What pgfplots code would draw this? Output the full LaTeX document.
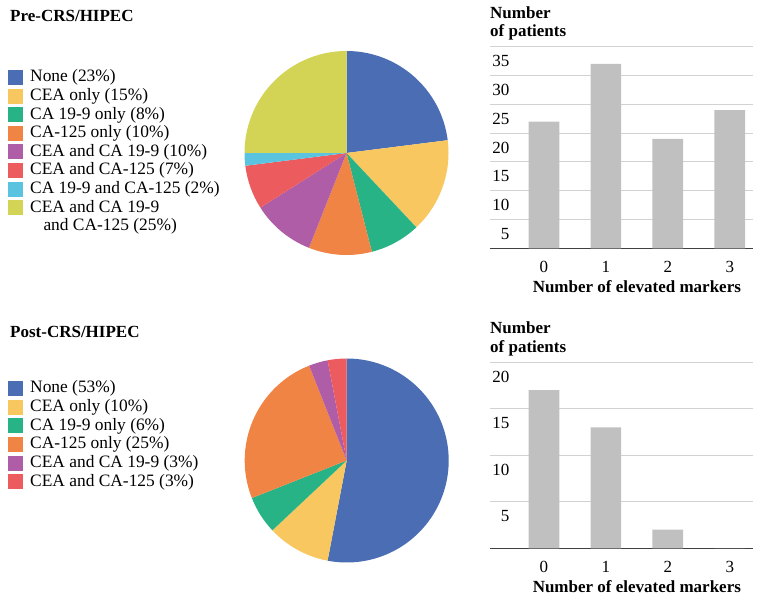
\documentclass[border=0pt]{standalone}
\usepackage{fontspec}
\setmainfont{Liberation Serif}
\usepackage{pgfplots}
\pgfplotsset{compat=1.18}

\definecolor{cblue}{HTML}{4A6DB3}
\definecolor{cyellow}{HTML}{F9C75F}
\definecolor{cgreen}{HTML}{27B386}
\definecolor{corange}{HTML}{F08445}
\definecolor{cpurple}{HTML}{B05DA8}
\definecolor{cred}{HTML}{EC5B5E}
\definecolor{ccyan}{HTML}{5AC3E0}
\definecolor{clime}{HTML}{D3D455}
\definecolor{cbar}{HTML}{C0C0C0}
\definecolor{cgrid}{HTML}{D2D2D2}
\definecolor{cbase}{HTML}{404040}

\newcommand\txt{\fontsize{17}{18.6}\selectfont}
\newcommand\legtxt{\fontsize{17.4}{18.6}\selectfont}

\pgfplotsset{
  markerbars/.style={
    scale only axis, width=262.7pt,
    xmin=-0.87, xmax=3.37, ymin=0,
    enlargelimits=false,
    ybar, bar width=30.7pt,
    xtick={0,1,2,3},
    tick style={draw=none},
    ymajorgrids, grid style={draw=cgrid, line width=0.9pt},
    axis x line*=bottom, axis y line*=left,
    y axis line style={draw=none},
    x axis line style={draw=cbase, line width=1.3pt},
    /pgf/number format/assume math mode=true,
    tick label style={font=\txt},
    yticklabel style={anchor=east, xshift=23pt, yshift=-14.5pt},
    xticklabel style={yshift=-5pt},
    xlabel={Number of elevated markers},
    xlabel style={font=\txt\bfseries, at={(axis description cs:0.559,0)}, anchor=center, yshift=-38.4pt},
    ylabel={Number\\of patients},
    ylabel style={rotate=-90, font=\txt\bfseries, align=left, at={(axis description cs:0,1)}, anchor=south west, inner sep=0pt, yshift=6pt},
  }
}

% legend row: y (from top, px), colour, text
\newcommand\legrow[3]{%
  \fill[#2] (8.3pt,{602pt-#1pt-7.5pt}) rectangle (23.3pt,{602pt-#1pt+7.5pt});
  \node[anchor=base west, inner sep=0pt, font=\legtxt] at (30pt,{602pt-#1pt-4.5pt}) {#3};
}

\begin{document}
\begin{tikzpicture}
\useasboundingbox (0pt,0pt) rectangle (762pt,602pt);

% ---------------- Pre-CRS/HIPEC ----------------
\node[anchor=base west, inner sep=0pt, font=\txt\bfseries] at (10pt,580.5pt) {Pre-CRS/HIPEC};

\legrow{77.5}{cblue}{None (23\%)}
\legrow{96.1}{cyellow}{CEA only (15\%)}
\legrow{114.7}{cgreen}{CA 19-9 only (8\%)}
\legrow{133.3}{corange}{CA-125 only (10\%)}
\legrow{151.9}{cpurple}{CEA and CA 19-9 (10\%)}
\legrow{170.5}{cred}{CEA and CA-125 (7\%)}
\legrow{189.1}{ccyan}{CA 19-9 and CA-125 (2\%)}
\legrow{207.7}{clime}{CEA and CA 19-9}
\node[anchor=base west, inner sep=0pt, font=\legtxt] at (43.3pt,371.2pt) {and CA-125 (25\%)};

\xdef\ang{90}
\foreach \p/\c in {23/cblue, 15/cyellow, 8/cgreen, 10/corange, 10/cpurple, 7/cred, 2/ccyan, 25/clime} {
  \pgfmathsetmacro\endang{\ang - 3.6*\p}
  \fill[\c] (346.5pt,449pt) -- ++(\ang:102pt) arc[start angle=\ang, end angle=\endang, radius=102pt] -- cycle;
  \xdef\ang{\endang}
}

\begin{axis}[markerbars, at={(490pt,353.7pt)}, anchor=south west, height=201.6pt,
    ymax=35, ytick={5,10,...,35}]
  \addplot[fill=cbar, draw=none] coordinates {(0,22) (1,32) (2,19) (3,24)};
\end{axis}

% ---------------- Post-CRS/HIPEC ----------------
\node[anchor=base west, inner sep=0pt, font=\txt\bfseries] at (10pt,264.5pt) {Post-CRS/HIPEC};

\legrow{388.5}{cblue}{None (53\%)}
\legrow{407.15}{cyellow}{CEA only (10\%)}
\legrow{425.8}{cgreen}{CA 19-9 only (6\%)}
\legrow{444.45}{corange}{CA-125 only (25\%)}
\legrow{463.1}{cpurple}{CEA and CA 19-9 (3\%)}
\legrow{481.75}{cred}{CEA and CA-125 (3\%)}

\xdef\ang{90}
\foreach \p/\c in {53/cblue, 10/cyellow, 6/cgreen, 25/corange, 3/cpurple, 3/cred} {
  \pgfmathsetmacro\endang{\ang - 3.6*\p}
  \fill[\c] (346.7pt,141.5pt) -- ++(\ang:102pt) arc[start angle=\ang, end angle=\endang, radius=102pt] -- cycle;
  \xdef\ang{\endang}
}

\begin{axis}[markerbars, at={(490pt,53.7pt)}, anchor=south west, height=186pt,
    ymax=20, ytick={5,10,15,20}]
  \addplot[fill=cbar, draw=none] coordinates {(0,17) (1,13) (2,2) (3,0)};
\end{axis}
\end{tikzpicture}
\end{document}
